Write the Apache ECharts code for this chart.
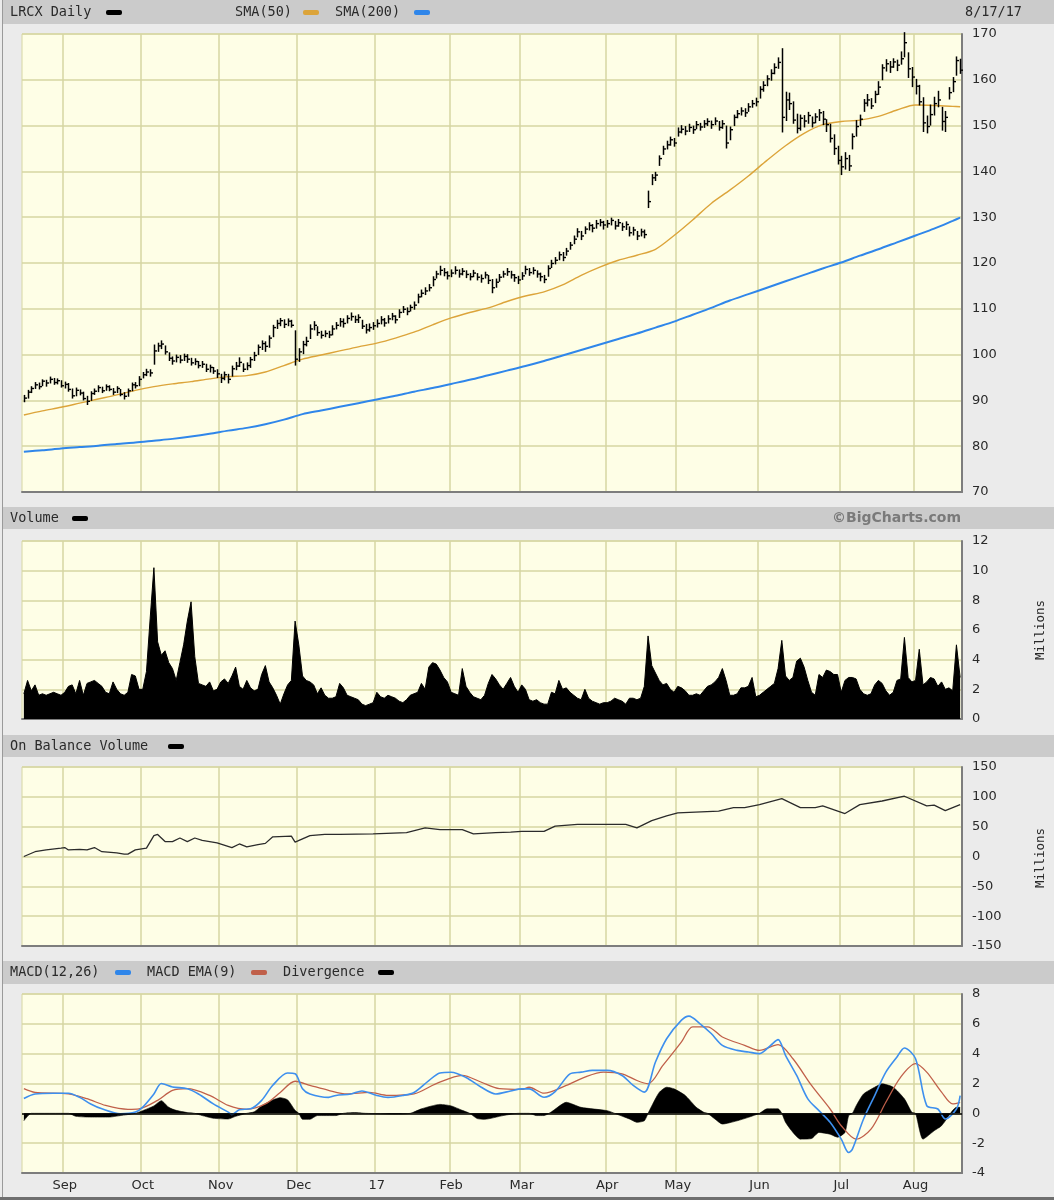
<!DOCTYPE html>
<html><head><meta charset="utf-8">
<script src="https://cdn.jsdelivr.net/npm/echarts@6/dist/echarts.min.js"></script>
<style>html,body{margin:0;padding:0;background:#ebebeb}#c{width:1054px;height:1200px}</style>
</head><body><div id="c"></div>
<script>
// ---- categories: NYSE trading days 2016-08-17 .. 2017-08-17 ----
const holidays = ['2016-09-05','2016-11-24','2016-12-26','2017-01-02','2017-01-16','2017-02-20','2017-04-14','2017-05-29','2017-07-04'];
const startDay = '2016-08-17', endDay = '2017-08-17';
const monthNames = ['Jan','Feb','Mar','Apr','May','Jun','Jul','Aug','Sep','Oct','Nov','Dec'];
const dates = [];
(function(){ let t = Date.parse(startDay+'T00:00:00Z'); const e = Date.parse(endDay+'T00:00:00Z');
  while (t <= e) { const d = new Date(t); const w = d.getUTCDay(); const s = d.toISOString().slice(0,10);
    if (w > 0 && w < 6 && holidays.indexOf(s) < 0) dates.push(s); t += 86400000; } })();

// ---- price (daily) ----
const close = [
 90.5,91.8,92.6,93.4,93.0,94.2,93.8,94.6,93.9,94.3,93.2,
 93.5,92.4,91.0,92.2,91.6,90.4,89.8,91.5,92.0,92.8,92.1,93.0,92.4,91.8,92.6,91.3,90.9,92.1,93.4,93.2,94.6,
 95.6,96.2,96.0,100.8,101.9,102.3,100.6,99.2,98.6,99.4,98.8,99.6,99.0,98.2,98.5,97.6,97.9,96.8,97.2,96.4,95.8,
 94.8,95.6,94.6,96.9,97.5,98.3,96.8,97.6,98.9,99.8,101.6,102.4,101.8,103.6,105.9,106.8,107.4,106.6,107.3,106.4,99.0,
 100.6,102.2,102.9,105.6,106.4,104.8,104.2,104.6,104.3,105.6,106.4,107.2,106.8,107.9,108.3,107.6,108.1,106.2,105.4,105.9,106.3,
 106.8,107.6,106.9,107.8,108.4,107.6,109.2,109.9,109.4,110.3,110.8,112.6,113.4,113.9,114.6,116.4,117.6,118.4,117.9,117.2,
 117.8,118.4,117.6,118.2,117.5,117.0,117.8,116.9,116.6,117.4,116.2,114.6,115.8,116.9,117.6,118.1,117.4,116.8,116.3,
 117.2,118.6,117.9,118.4,117.6,117.0,116.4,118.8,119.9,120.6,121.8,121.2,122.6,123.9,125.2,126.8,125.9,127.4,128.2,127.6,128.6,128.9,128.3,
 128.6,129.3,128.1,128.8,127.9,128.4,126.6,127.2,125.9,126.8,126.2,133.4,138.6,139.2,142.8,144.9,145.8,146.9,146.2,
 148.6,149.2,148.8,149.6,149.1,150.2,149.7,150.4,150.9,150.2,151.0,149.6,150.4,146.2,149.1,151.8,152.6,153.2,152.8,154.1,154.8,155.2,
 157.9,158.8,160.2,161.4,162.7,163.8,151.8,155.6,154.8,151.2,149.4,151.6,151.0,152.2,150.6,151.9,152.8,151.4,150.2,147.2,145.0,142.4,
 141.0,142.8,141.2,147.6,149.8,151.4,154.9,155.6,154.3,156.8,158.4,162.6,163.5,162.8,163.9,163.2,164.6,168.1,162.4,160.6,
 158.6,155.2,150.6,149.8,152.4,154.8,155.6,150.9,151.8,157.2,159.6,164.2,162.1];
const high = [
 91.2,92.3,93.1,94.0,93.9,94.6,94.5,95.2,94.9,94.8,94.4,
 94.1,93.8,92.6,92.8,92.4,91.9,91.0,92.0,92.6,93.3,93.0,93.5,93.3,92.7,93.1,92.5,91.8,92.6,93.9,94.0,95.3,
 96.2,96.9,96.8,102.2,102.6,103.1,102.0,100.5,99.6,100.0,99.9,100.2,100.1,99.3,99.2,98.6,98.6,98.0,97.8,97.3,96.8,
 95.8,96.3,95.8,97.6,98.4,99.4,98.1,98.3,99.5,100.6,102.2,103.1,102.9,104.2,106.5,107.6,108.0,107.7,107.9,107.6,105.3,
 101.4,103.0,103.9,106.6,107.3,106.2,105.2,105.3,105.2,106.4,107.1,108.0,107.9,108.6,109.2,108.5,108.8,107.6,106.7,106.8,107.1,
 107.7,108.4,108.0,108.6,109.1,108.6,109.9,110.6,110.3,110.9,111.6,113.3,114.2,114.7,115.4,117.1,118.3,119.4,118.9,118.2,
 118.6,119.3,118.6,118.9,118.4,117.8,118.5,117.8,117.5,118.1,117.4,116.5,116.6,117.6,118.3,118.9,118.3,117.6,117.2,
 118.0,119.4,118.9,119.1,118.4,117.9,117.4,119.5,120.7,121.3,122.5,122.4,123.3,124.6,126.0,127.6,127.0,128.0,128.9,128.5,129.4,129.6,129.2,
 129.4,129.9,129.2,129.6,128.8,129.1,128.0,127.9,127.0,127.5,127.3,135.8,139.4,139.9,143.5,145.6,146.7,147.6,147.3,
 149.6,150.1,149.9,150.4,150.0,151.0,150.6,151.2,151.6,151.1,151.8,151.0,151.2,150.0,149.8,152.4,153.4,154.0,153.8,154.9,155.6,156.1,
 158.6,159.7,161.0,162.3,163.6,164.9,166.9,157.4,157.2,155.3,152.6,152.4,152.3,153.0,152.0,152.7,153.6,153.2,151.4,150.4,148.1,145.6,
 143.4,144.2,143.6,148.3,151.2,152.4,155.8,156.9,156.0,157.6,159.7,163.4,164.5,164.1,164.7,164.4,166.2,170.4,166.0,162.8,
 160.2,158.9,156.2,152.2,154.6,156.3,157.6,154.1,153.2,158.4,160.6,165.1,164.6];
const low = [
 89.6,90.4,91.6,92.5,92.4,93.1,93.0,93.7,93.4,93.5,92.8,
 92.6,91.9,90.4,90.9,91.1,90.0,89.0,89.9,91.2,91.8,91.6,92.1,92.0,91.2,91.6,90.9,90.2,90.8,92.0,92.6,93.1,
 94.8,95.3,95.2,97.8,100.6,101.2,100.0,98.6,97.8,98.3,98.1,98.6,98.2,97.6,97.7,97.0,97.1,96.2,96.1,95.8,94.9,
 93.8,94.4,93.7,95.2,96.6,97.3,96.2,96.6,97.1,98.6,99.9,101.0,100.6,101.5,103.8,105.6,106.2,105.8,106.2,105.9,97.6,
 98.4,100.1,101.8,103.4,105.3,104.1,103.5,103.8,103.6,104.2,105.5,106.1,105.9,106.8,107.4,106.9,106.9,105.6,104.6,105.0,105.4,
 105.9,106.6,106.1,106.8,107.5,106.8,108.0,109.1,108.6,109.4,109.8,111.2,112.5,113.0,113.8,114.9,116.6,117.3,117.1,116.4,
 116.9,117.5,116.8,117.3,116.7,116.2,116.9,116.2,115.7,116.6,115.4,113.4,114.6,115.9,116.8,117.2,116.6,115.9,115.4,
 116.3,117.5,117.2,117.5,116.8,116.0,115.6,117.0,118.9,119.7,120.6,120.4,121.6,122.9,124.1,125.6,125.0,126.3,127.1,126.7,127.5,128.0,127.3,
 127.7,128.2,127.3,127.9,127.0,127.2,125.8,126.0,125.0,125.8,125.4,132.0,137.0,137.9,141.2,143.6,144.8,145.6,145.4,
 147.6,148.3,147.9,148.6,148.2,149.2,148.9,149.5,149.9,149.3,150.1,148.9,149.3,145.0,146.8,149.9,151.6,152.2,151.9,153.0,153.9,154.2,
 155.9,157.4,158.6,159.8,161.2,162.4,148.5,151.0,153.4,150.4,148.3,148.9,149.6,150.4,149.6,150.5,151.0,150.1,148.6,146.3,143.6,141.5,
 139.2,140.4,140.1,144.8,147.6,149.9,153.0,154.2,153.6,154.9,156.7,159.9,161.8,161.5,162.6,161.9,163.3,164.9,160.4,158.4,
 156.8,154.4,148.6,148.3,150.0,152.2,154.0,148.9,148.6,155.7,157.3,160.9,161.3];

// ---- moving averages: [trading-day number, value] ----
const sma50 = [[0,86.8],[5,87.7],[10,88.5],[15,89.4],[20,90.3],[25,91.2],[30,92.2],[35,93.0],[40,93.6],[45,94.1],[50,94.7],[55,95.2],[60,95.4],[65,96.2],[70,97.6],[75,99.0],[80,99.9],[85,100.8],[90,101.7],[95,102.5],[100,103.6],[105,104.9],[110,106.5],[115,108.0],[120,109.2],[125,110.2],[130,111.6],[135,112.8],[140,113.7],[145,115.2],[150,117.3],[155,119.1],[160,120.6],[165,121.7],[170,123.0],[175,126.0],[180,129.4],[185,133.0],[190,135.9],[195,139.0],[200,142.4],[205,145.6],[210,148.3],[215,150.2],[220,150.9],[225,151.2],[230,152.0],[235,153.4],[240,154.5],[245,154.4],[250,154.2],[252,154.1]];
const sma200 = [[0,78.8],[5,79.1],[10,79.5],[15,79.8],[20,80.1],[25,80.5],[30,80.8],[35,81.2],[40,81.6],[45,82.1],[50,82.7],[55,83.4],[60,84.0],[65,84.8],[70,85.8],[75,87.0],[80,87.8],[85,88.6],[90,89.4],[95,90.2],[100,91.0],[105,91.9],[110,92.7],[115,93.6],[120,94.5],[125,95.5],[130,96.5],[135,97.5],[140,98.6],[145,99.8],[150,101.0],[155,102.2],[160,103.4],[165,104.6],[170,105.9],[175,107.2],[180,108.7],[185,110.2],[190,111.8],[195,113.2],[200,114.6],[205,116.0],[210,117.4],[215,118.8],[220,120.1],[225,121.6],[230,123.0],[235,124.5],[240,126.0],[245,127.5],[250,129.2],[252,129.9]];

// ---- volume (millions, daily) ----
const volume = [
 1.7,2.6,1.9,2.3,1.6,1.7,1.6,1.7,1.8,1.7,1.6,
 1.8,2.2,2.3,1.7,2.6,1.6,2.4,2.5,2.6,2.4,2.2,1.8,1.7,2.5,2.0,1.7,1.6,1.8,3.0,2.9,2.0,
 2.0,3.2,6.8,10.2,5.2,4.3,4.6,3.8,3.4,2.6,3.8,5.0,6.6,7.9,4.2,2.4,2.3,2.2,2.5,1.9,2.0,
 2.5,2.7,2.4,2.9,3.5,2.2,2.0,2.6,2.1,1.9,2.0,3.0,3.6,2.5,2.1,1.6,1.0,1.7,2.3,2.6,6.6,
 5.0,2.9,2.6,2.5,2.3,1.7,2.1,1.6,1.4,1.4,1.5,2.4,2.1,1.6,1.5,1.4,1.3,1.0,0.9,1.0,1.1,
 1.8,1.5,1.4,1.6,1.5,1.4,1.2,1.1,1.3,1.6,1.7,1.8,2.4,2.0,3.5,3.8,3.7,3.3,2.8,2.5,
 1.8,1.7,1.6,3.4,2.2,1.8,1.5,1.4,1.3,1.6,2.4,3.0,2.7,2.3,2.0,2.4,2.8,2.2,1.8,
 2.3,2.0,1.3,1.2,1.3,1.1,1.0,1.0,1.8,1.7,2.6,2.0,2.1,1.8,1.6,1.4,1.3,2.0,1.4,1.2,1.1,1.0,1.1,
 1.1,1.2,1.4,1.3,1.2,1.0,1.4,1.4,1.3,1.4,2.2,5.6,3.6,3.1,2.6,2.3,2.4,2.0,1.8,
 2.2,2.1,1.9,1.6,1.6,1.7,1.6,1.9,2.2,2.3,2.5,2.8,3.4,2.6,1.6,1.6,1.7,2.1,2.1,2.2,2.8,1.5,
 1.6,1.8,2.0,2.2,2.4,3.4,5.3,2.9,2.6,2.8,3.9,4.1,3.5,2.6,1.8,1.6,3.0,2.8,3.3,3.2,3.0,3.0,
 1.8,2.6,2.8,2.8,2.7,2.0,1.7,1.6,1.7,2.3,2.6,2.4,1.9,1.6,1.8,2.6,2.7,5.5,2.8,2.5,
 2.6,4.7,2.3,2.5,2.8,2.7,2.2,2.5,2.0,2.1,1.9,5.0,2.8];

// ---- on balance volume (millions): [trading-day number, value] ----
const obv = [[0,0],[3,8],[6,11],[10,14],[11,15],[12,11],[15,12],[17,11],[19,15],[21,8],[25,6],[27,4],[28,4],[30,11],[33,14],[35,35],[36,37],[38,25],[40,25],[42,31],[44,25],[46,31],[48,27],[52,23],[56,15],[58,21],[60,16],[63,20],[65,22],[67,33],[72,34],[73,24],[77,35],[81,37],[85,37],[94,38],[103,40],[108,48],[112,45],[118,45],[121,38],[127,40],[131,41],[134,42],[140,42],[143,51],[149,54],[162,54],[165,48],[169,60],[173,68],[176,73],[187,76],[191,82],[194,82],[198,87],[204,97],[209,82],[213,82],[215,85],[221,72],[225,87],[231,93],[237,101],[243,85],[245,86],[248,77],[252,87]];

// ---- MACD: [trading-day number, value] ----
const macd = [[0,1.0],[3,1.3],[8,1.35],[12,1.35],[15,1.07],[18,0.63],[21,0.3],[26,-0.03],[30,0.08],[32,0.42],[35,1.3],[37,2.0],[40,1.77],[44,1.65],[47,1.3],[51,0.63],[55,0.08],[56,-0.07],[58,0.24],[61,0.3],[64,0.87],[67,1.88],[71,2.7],[73,2.66],[75,1.65],[77,1.3],[82,1.07],[84,1.2],[88,1.3],[91,1.5],[95,1.2],[98,1.07],[102,1.2],[105,1.4],[109,2.2],[112,2.7],[115,2.75],[119,2.4],[123,1.77],[127,1.3],[131,1.5],[134,1.64],[136,1.64],[140,1.08],[143,1.46],[147,2.65],[150,2.76],[153,2.88],[157,2.88],[161,2.54],[164,1.87],[167,1.42],[170,3.44],[173,5.0],[177,6.25],[179,6.52],[182,6.0],[185,5.35],[188,4.56],[192,4.22],[195,4.11],[198,4.0],[201,4.56],[203,4.94],[205,3.89],[208,2.54],[211,0.97],[214,0.18],[217,-0.6],[220,-1.73],[222,-2.63],[223,-2.4],[226,-0.38],[229,1.19],[232,2.76],[235,3.78],[237,4.38],[240,3.66],[243,0.52],[246,0.29],[248,-0.38],[251,0.29],[252,1.19]];
const macdEma = [[0,1.65],[3,1.4],[12,1.3],[17,0.98],[22,0.53],[28,0.27],[31,0.3],[36,0.87],[40,1.54],[44,1.65],[50,1.2],[55,0.53],[60,0.27],[65,0.63],[69,1.4],[73,2.15],[77,1.88],[82,1.54],[87,1.3],[93,1.4],[98,1.2],[105,1.3],[111,1.99],[118,2.55],[123,2.1],[128,1.65],[134,1.6],[136,1.75],[140,1.35],[146,1.87],[151,2.43],[156,2.76],[161,2.65],[165,2.2],[168,1.98],[172,3.21],[177,4.79],[180,5.8],[184,5.8],[188,5.12],[194,4.56],[198,4.22],[203,4.6],[207,3.66],[212,1.87],[217,0.29],[220,-0.83],[224,-1.73],[228,-1.06],[232,0.74],[236,2.43],[240,3.33],[243,2.76],[247,1.42],[250,0.63],[252,0.74]];
const divergence = [[0,-0.5],[2,0],[12,0],[14,-0.2],[18,-0.25],[23,-0.25],[26,-0.15],[30,0],[32,0.18],[35,0.5],[37,0.85],[39,0.4],[41,0.2],[44,0.05],[46,0],[48,-0.15],[51,-0.33],[55,-0.38],[57,-0.2],[60,0],[62,0.1],[64,0.5],[67,0.9],[69,1.05],[71,0.9],[73,0.2],[74,0],[75,-0.4],[77,-0.4],[79,-0.15],[84,-0.15],[86,0],[89,0.05],[92,0],[100,-0.05],[104,0],[107,0.3],[112,0.6],[115,0.5],[118,0.2],[120,0],[122,-0.35],[124,-0.4],[129,-0.15],[133,0],[136,0],[138,-0.15],[140,-0.15],[142,0.1],[146,0.74],[150,0.4],[157,0.18],[159,0],[163,-0.38],[165,-0.6],[167,-0.5],[168,0],[169,0.5],[171,1.4],[173,1.75],[175,1.64],[178,1.2],[181,0.4],[183,0.07],[184,0],[186,-0.38],[188,-0.72],[192,-0.5],[195,-0.27],[198,0],[200,0.3],[203,0.3],[204,0],[205,-0.6],[207,-1.28],[209,-1.73],[212,-1.69],[214,-1.28],[217,-1.4],[219,-1.6],[221,-1.28],[222,-0.15],[223,0],[224,0.5],[226,1.3],[229,1.75],[231,1.98],[234,1.75],[237,0.97],[239,0.07],[240,0],[242,-1.73],[245,-1.17],[247,-0.83],[249,-0.15],[250,0.2],[251,0.4],[252,0.4]];

// ---- axis ticks ----
const priceTicks = {min:70, max:170, interval:10};
const volTicks = {min:0, max:12, interval:2};
const obvTicks = {min:-150, max:150, interval:50};
const macdTicks = {min:-4, max:8, interval:2};

// ---------------------------------------------------------------
const ohlcData = dates.map((d,i)=>[i, high[i], low[i], close[i]]);
function isMonthStart(i){ return i>0 && dates[i] && dates[i].slice(0,7)!==dates[i-1].slice(0,7); }
function monthLabel(v){ const m=+v.slice(5,7); return m===1 ? v.slice(2,4) : monthNames[m-1]; }

const PLOT_BG='#fefee6', GRID_C='#d6d6a2', AXIS_C='#7d7d7d', TXT='#2a2a2a';
const MONO='"DejaVu Sans Mono", "Liberation Mono", monospace';
const SANS='"DejaVu Sans", Verdana, sans-serif';
const grids = [
  {left:22, width:940, top:34, height:458},
  {left:22, width:940, top:541, height:178},
  {left:22, width:940, top:767, height:179},
  {left:22, width:940, top:994, height:179}
].map(g=>Object.assign(g,{show:true, backgroundColor:PLOT_BG, borderColor:GRID_C, borderWidth:1}));

function xAx(idx, showLabel){
  return {type:'category', gridIndex:idx, data:dates, boundaryGap:true,
    axisLine:{show:true, onZero:false, lineStyle:{color:AXIS_C, width:2}},
    axisTick:{show:false},
    axisLabel:{show:showLabel, interval:(i)=>isMonthStart(i), formatter:(v)=>monthLabel(v), color:TXT, fontFamily:SANS, fontSize:13, margin:6},
    splitLine:{show:true, interval:(i)=>isMonthStart(i), lineStyle:{color:GRID_C, width:1.5}}};
}
function yAx(idx, t){
  return Object.assign({type:'value', gridIndex:idx, position:'right', scale:false,
    axisLine:{show:true, lineStyle:{color:AXIS_C, width:2}}, axisTick:{show:false},
    axisLabel:{color:TXT, fontFamily:SANS, fontSize:13, margin:10},
    splitLine:{show:true, lineStyle:{color:GRID_C, width:1.5}}}, t);
}

function strip(y,h){ return {type:'rect', silent:true, shape:{x:3,y:y,width:1051,height:h}, style:{fill:'#cbcbcb'}}; }
function txt(x,y,s,opt){ return {type:'text', silent:true, x:x, y:y, style:Object.assign({text:s, fill:TXT, font:'13.5px '+MONO, textVerticalAlign:'middle'}, opt||{})}; }
function sw(x,y,c){ return {type:'rect', silent:true, shape:{x:x,y:y-2,width:16,height:5,r:2}, style:{fill:c}}; }

const graphic = [
  {type:'rect', silent:true, shape:{x:2,y:0,width:1,height:1200}, style:{fill:'#9a9a9a'}},
  {type:'rect', silent:true, shape:{x:0,y:1197,width:1054,height:3}, style:{fill:'#6f6f6f'}},
  strip(0,24), strip(507,22), strip(735,22), strip(961,23),
  txt(10,12,'LRCX Daily'), sw(106,12,'#000'),
  txt(235,12,'SMA(50)'), sw(303,12,'#dca43a'),
  txt(335,12,'SMA(200)'), sw(414,12,'#2f86ea'),
  txt(1022,12,'8/17/17',{textAlign:'right'}),
  txt(10,518,'Volume'), sw(72,518,'#000'),
  txt(961,518,'©BigCharts.com',{textAlign:'right', fill:'#7a7a7a', font:'bold 14px '+SANS}),
  txt(10,746,'On Balance Volume'), sw(168,746,'#000'),
  txt(10,972,'MACD(12,26)'), sw(115,972,'#2f86ea'),
  txt(147,972,'MACD EMA(9)'), sw(251,972,'#c0604a'),
  txt(283,972,'Divergence'), sw(378,972,'#000'),
  {type:'text', silent:true, x:1041, y:630, rotation:Math.PI/2, style:{text:'Millions', fill:TXT, font:'12.5px '+MONO, textAlign:'center', textVerticalAlign:'middle'}},
  {type:'text', silent:true, x:1041, y:858, rotation:Math.PI/2, style:{text:'Millions', fill:TXT, font:'12.5px '+MONO, textAlign:'center', textVerticalAlign:'middle'}}
];

const option = {
  animation:false,
  backgroundColor:'#ebebeb',
  grid: grids,
  xAxis: [xAx(0,false), xAx(1,false), xAx(2,false), xAx(3,true)],
  yAxis: [yAx(0,priceTicks), yAx(1,volTicks), yAx(2,obvTicks), yAx(3,macdTicks)],
  graphic: graphic,
  series: [
    {type:'custom', xAxisIndex:0, yAxisIndex:0, data:ohlcData, encode:{x:0, y:[1,2,3]}, z:5,
      renderItem:function(params, api){
        const i=api.value(0);
        const h=api.coord([i, api.value(1)]), l=api.coord([i, api.value(2)]), c=api.coord([i, api.value(3)]);
        const x=Math.round(h[0])+0.5;
        return {type:'group', children:[
          {type:'line', shape:{x1:x,y1:h[1],x2:x,y2:l[1]}, style:{stroke:'#000', lineWidth:1.5}},
          {type:'line', shape:{x1:x,y1:c[1],x2:x+2.5,y2:c[1]}, style:{stroke:'#000', lineWidth:1.4}}
        ]};
      }},
    {type:'line', name:'SMA(50)', xAxisIndex:0, yAxisIndex:0, data:sma50, showSymbol:false, smooth:0.3, z:4,
      lineStyle:{color:'#dca43a', width:1.4}},
    {type:'line', name:'SMA(200)', xAxisIndex:0, yAxisIndex:0, data:sma200, showSymbol:false, smooth:0.3, z:4,
      lineStyle:{color:'#2f86ea', width:2}},
    {type:'line', name:'Volume', xAxisIndex:1, yAxisIndex:1, data:volume, showSymbol:false,
      lineStyle:{color:'#000', width:1}, areaStyle:{color:'#000', opacity:1}},
    {type:'line', name:'OBV', xAxisIndex:2, yAxisIndex:2, data:obv, showSymbol:false,
      lineStyle:{color:'#2b2b2b', width:1.3}},
    {type:'line', name:'Divergence', xAxisIndex:3, yAxisIndex:3, data:divergence, showSymbol:false, smooth:0.2, z:2,
      lineStyle:{color:'#000', width:0.6}, areaStyle:{color:'#000', opacity:1},
      markLine:{silent:true, symbol:'none', label:{show:false}, lineStyle:{color:'#000', width:1.5, type:'solid'}, data:[{yAxis:0}]}},
    {type:'line', name:'MACD EMA(9)', xAxisIndex:3, yAxisIndex:3, data:macdEma, showSymbol:false, smooth:0.3, z:3,
      lineStyle:{color:'#c0604a', width:1.3}},
    {type:'line', name:'MACD(12,26)', xAxisIndex:3, yAxisIndex:3, data:macd, showSymbol:false, smooth:0.3, z:4,
      lineStyle:{color:'#3d8fee', width:1.6}}
  ]
};
if (dates.length!==close.length||high.length!==close.length||low.length!==close.length||volume.length!==close.length)
  console.error('length mismatch', dates.length, close.length, high.length, low.length, volume.length);
const chart = echarts.init(document.getElementById('c'), null, {renderer:'canvas'});
chart.setOption(option);
</script></body></html>
